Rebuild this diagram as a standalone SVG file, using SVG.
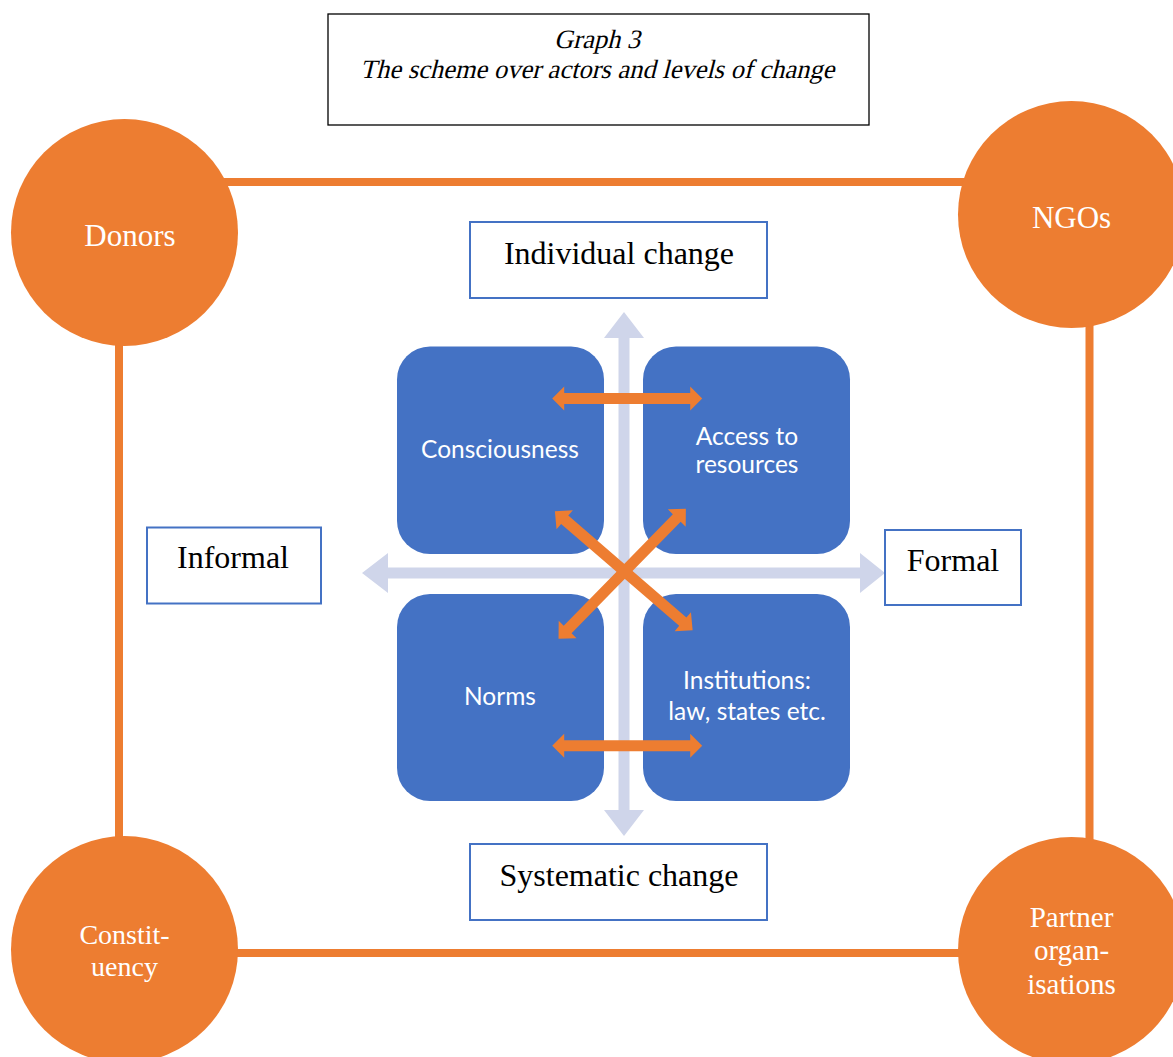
<svg xmlns="http://www.w3.org/2000/svg" width="1173" height="1057" viewBox="0 0 1173 1057">
<style>
.frame{stroke:#ED7D31;stroke-width:8;fill:none}
.actor{fill:#ED7D31}
.actorText{font-family:"Liberation Serif","Times New Roman",serif;fill:#FFFFFF;text-anchor:middle}
.quad{fill:#4472C4}
.quadText{font-family:Lato,"Liberation Sans",sans-serif;font-size:24.5px;fill:#FFFFFF;text-anchor:middle}
.label{fill:#FFFFFF;stroke:#4472C4;stroke-width:2}
.labelText{font-family:"Liberation Serif","Times New Roman",serif;font-size:32px;fill:#000000;text-anchor:middle}
.titleText{font-family:"Liberation Serif","Times New Roman",serif;font-size:26.5px;fill:#000000;text-anchor:middle}
.axis{fill:#CFD5EA}
.link{fill:#ED7D31}
</style>
<defs>
<polygon id="dbl150" points="-75,0 -63,-12 -63,-5.5 63,-5.5 63,-12 75,0 63,12 63,5.5 -63,5.5 -63,12"/>
<polygon id="dbl182" points="-91,0 -78,-12.5 -78,-5.5 78,-5.5 78,-12.5 91,0 78,12.5 78,5.5 -78,5.5 -78,12.5"/>
</defs>
<rect width="1173" height="1057" fill="#FFFFFF"/>

<g id="title">
<rect x="328" y="14" width="541" height="111" fill="#FFFFFF" stroke="#000000" stroke-width="1.3"/>
<text class="titleText" transform="translate(597,48) skewX(-14)">Graph 3</text>
<text class="titleText" transform="translate(597,78) skewX(-14)">The scheme over actors and levels of change</text>
</g>

<g id="connectors">
<line class="frame" x1="124" y1="182" x2="1071" y2="182"/>
<line class="frame" x1="119" y1="232" x2="119" y2="950"/>
<line class="frame" x1="1089.5" y1="214" x2="1089.5" y2="950"/>
<line class="frame" x1="124" y1="953" x2="1071" y2="953"/>
<polygon class="axis" points="624,312 644,338 629.5,338 629.5,810 644,810 624,836 604,810 618.5,810 618.5,338 604,338"/>
<polygon class="axis" points="362,573 388,553 388,567.5 860,567.5 860,553 885,573 860,593 860,578.5 388,578.5 388,593"/>
</g>

<g id="node-donors">
<circle class="actor" cx="124.5" cy="232.5" r="113.5"/>
<text class="actorText" x="130" y="246" font-size="31">Donors</text>
</g>
<g id="node-ngos">
<circle class="actor" cx="1071.5" cy="214.5" r="113.5"/>
<text class="actorText" x="1071.5" y="228" font-size="31">NGOs</text>
</g>
<g id="node-constituency">
<circle class="actor" cx="124.5" cy="949.5" r="113.5"/>
<text class="actorText" x="124.5" y="944" font-size="28">Constit-</text>
<text class="actorText" x="124.5" y="976" font-size="28">uency</text>
</g>
<g id="node-partner">
<circle class="actor" cx="1071.5" cy="950.5" r="113.5"/>
<text class="actorText" x="1071.5" y="927" font-size="29">Partner</text>
<text class="actorText" x="1071.5" y="960" font-size="29">organ-</text>
<text class="actorText" x="1071.5" y="994" font-size="29">isations</text>
</g>

<g id="node-individual">
<rect class="label" x="470" y="222" width="297" height="76"/>
<text class="labelText" x="619" y="264">Individual change</text>
</g>
<g id="node-systematic">
<rect class="label" x="470" y="844" width="297" height="76"/>
<text class="labelText" x="619" y="886">Systematic change</text>
</g>
<g id="node-informal">
<rect class="label" x="147" y="527.5" width="174" height="76"/>
<text class="labelText" x="233" y="568">Informal</text>
</g>
<g id="node-formal">
<rect class="label" x="885" y="530" width="136" height="75"/>
<text class="labelText" x="953" y="571">Formal</text>
</g>

<g id="node-consciousness">
<rect class="quad" x="397" y="346.5" width="207" height="207.5" rx="33"/>
<text class="quadText" x="500" y="458">Consciousness</text>
</g>
<g id="node-access">
<rect class="quad" x="643" y="346.5" width="207" height="207.5" rx="33"/>
<text class="quadText" x="747" y="445">Access to</text>
<text class="quadText" x="747" y="473">resources</text>
</g>
<g id="node-norms">
<rect class="quad" x="397" y="594" width="207" height="207" rx="33"/>
<text class="quadText" x="500" y="705">Norms</text>
</g>
<g id="node-institutions">
<rect class="quad" x="643" y="594" width="207" height="207" rx="33"/>
<text class="quadText" x="747" y="689">Institutions:</text>
<text class="quadText" x="747" y="720">law, states etc.</text>
</g>

<g id="links">
<use href="#dbl150" class="link" transform="translate(627.2,398.6)"/>
<use href="#dbl150" class="link" transform="translate(627.2,745.7)"/>
<use href="#dbl182" class="link" transform="translate(623.75,570.7) rotate(40.8)"/>
<use href="#dbl182" class="link" transform="translate(622.2,573.75) rotate(134.4)"/>
</g>
</svg>
